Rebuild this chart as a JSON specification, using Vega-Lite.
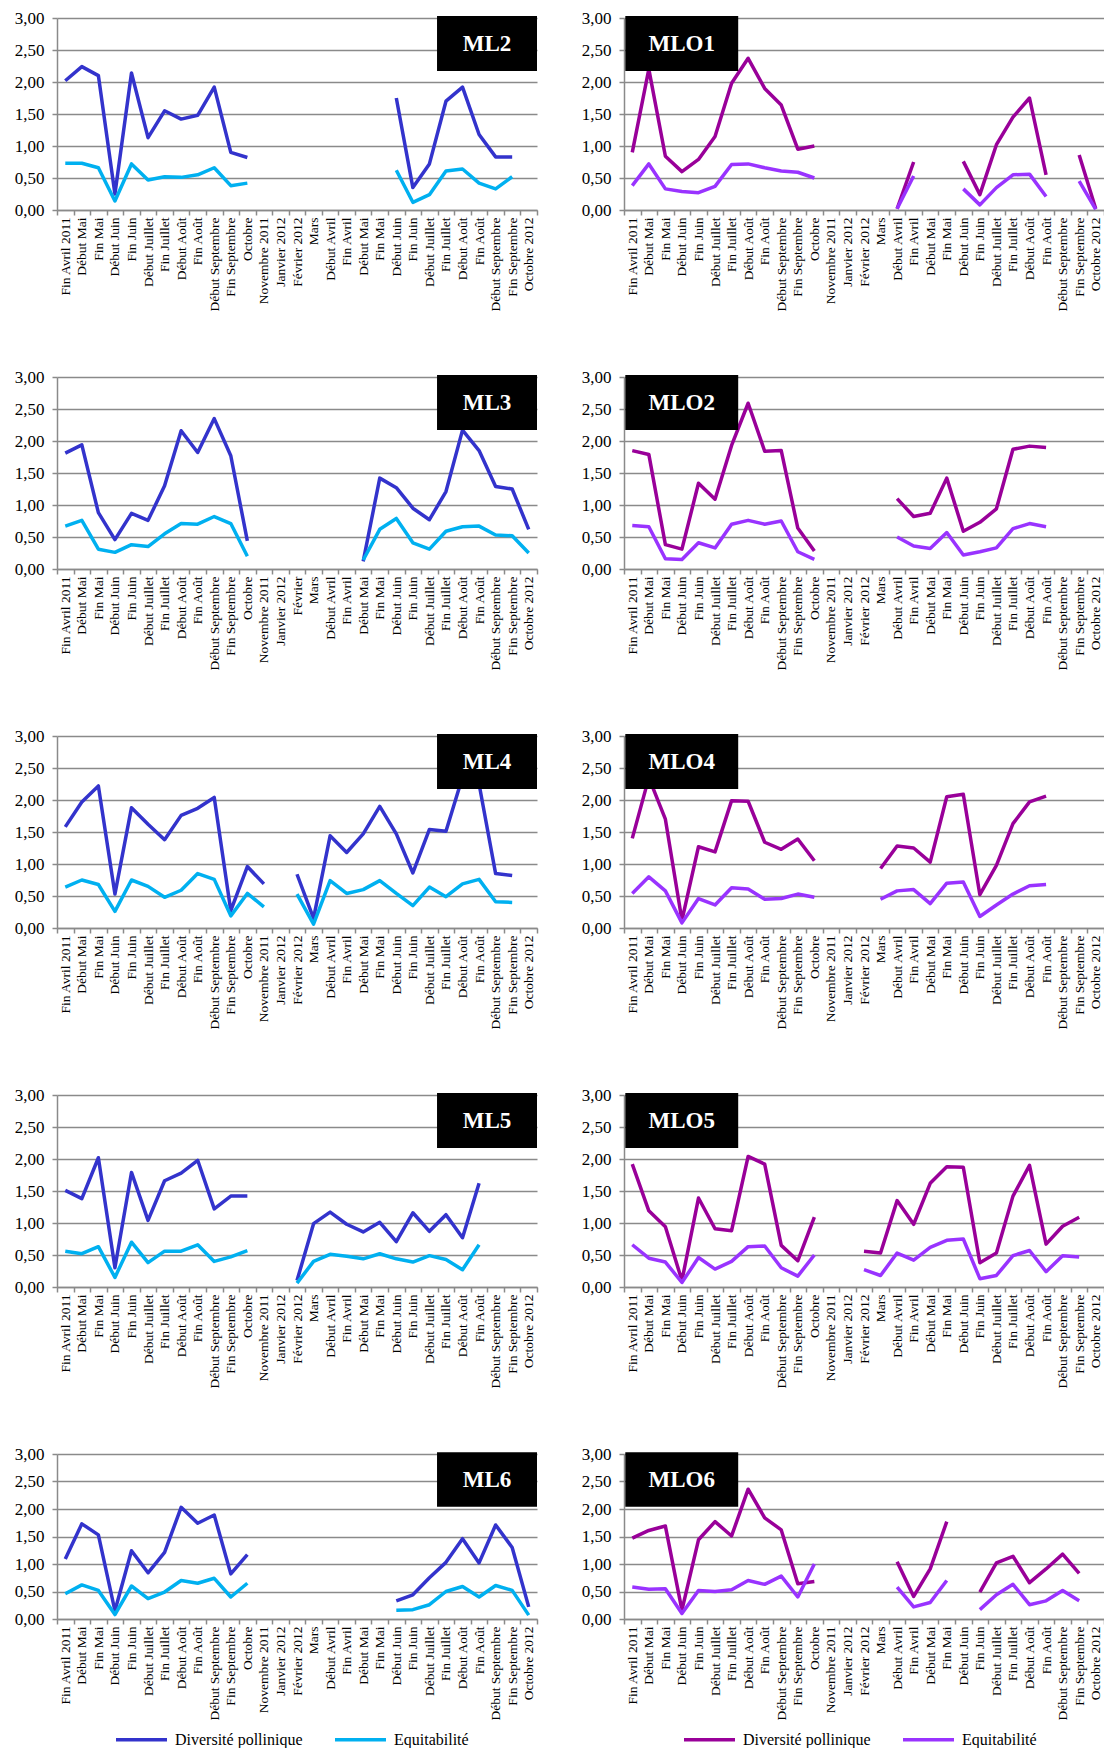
{
"$schema": "https://vega.github.io/schema/vega-lite/v6.json",
"padding": {"left": 14, "top": 9, "right": 0, "bottom": 0},
"background": "white",
"datasets": {"t": [
{"p":"ML2","i":0,"d":2.02,"e":0.73},{"p":"ML2","i":1,"d":2.24,"e":0.73},{"p":"ML2","i":2,"d":2.10,"e":0.66},{"p":"ML2","i":3,"d":0.25,"e":0.14},{"p":"ML2","i":4,"d":2.14,"e":0.72},{"p":"ML2","i":5,"d":1.13,"e":0.47},{"p":"ML2","i":6,"d":1.55,"e":0.52},{"p":"ML2","i":7,"d":1.42,"e":0.51},{"p":"ML2","i":8,"d":1.48,"e":0.55},{"p":"ML2","i":9,"d":1.92,"e":0.66},{"p":"ML2","i":10,"d":0.90,"e":0.38},{"p":"ML2","i":11,"d":0.82,"e":0.42},{"p":"ML2","i":12,"d":null,"e":null},
{"p":"ML2","i":20,"d":1.75,"e":0.62},{"p":"ML2","i":21,"d":0.35,"e":0.12},{"p":"ML2","i":22,"d":0.72,"e":0.24},{"p":"ML2","i":23,"d":1.70,"e":0.61},{"p":"ML2","i":24,"d":1.92,"e":0.64},{"p":"ML2","i":25,"d":1.18,"e":0.42},{"p":"ML2","i":26,"d":0.83,"e":0.33},{"p":"ML2","i":27,"d":0.83,"e":0.52},
{"p":"MLO1","i":0,"d":0.90,"e":0.38},{"p":"MLO1","i":1,"d":2.2,"e":0.72},{"p":"MLO1","i":2,"d":0.84,"e":0.33},{"p":"MLO1","i":3,"d":0.60,"e":0.29},{"p":"MLO1","i":4,"d":0.79,"e":0.27},{"p":"MLO1","i":5,"d":1.15,"e":0.37},{"p":"MLO1","i":6,"d":1.98,"e":0.71},{"p":"MLO1","i":7,"d":2.37,"e":0.72},{"p":"MLO1","i":8,"d":1.90,"e":0.66},{"p":"MLO1","i":9,"d":1.64,"e":0.61},{"p":"MLO1","i":10,"d":0.95,"e":0.59},{"p":"MLO1","i":11,"d":1.00,"e":0.50},{"p":"MLO1","i":12,"d":null,"e":null},
{"p":"MLO1","i":16,"d":0.02,"e":0.02},{"p":"MLO1","i":17,"d":0.75,"e":0.53},{"p":"MLO1","i":18,"d":null,"e":null},
{"p":"MLO1","i":20,"d":0.76,"e":0.33},{"p":"MLO1","i":21,"d":0.24,"e":0.08},{"p":"MLO1","i":22,"d":1.02,"e":0.35},{"p":"MLO1","i":23,"d":1.45,"e":0.55},{"p":"MLO1","i":24,"d":1.75,"e":0.56},{"p":"MLO1","i":25,"d":0.55,"e":0.21},{"p":"MLO1","i":26,"d":null,"e":null},
{"p":"MLO1","i":27,"d":0.86,"e":0.45},{"p":"MLO1","i":28,"d":0.02,"e":0.01},
{"p":"ML3","i":0,"d":1.81,"e":0.67},{"p":"ML3","i":1,"d":1.94,"e":0.76},{"p":"ML3","i":2,"d":0.88,"e":0.31},{"p":"ML3","i":3,"d":0.46,"e":0.26},{"p":"ML3","i":4,"d":0.87,"e":0.38},{"p":"ML3","i":5,"d":0.76,"e":0.35},{"p":"ML3","i":6,"d":1.30,"e":0.55},{"p":"ML3","i":7,"d":2.16,"e":0.71},{"p":"ML3","i":8,"d":1.82,"e":0.70},{"p":"ML3","i":9,"d":2.35,"e":0.82},{"p":"ML3","i":10,"d":1.77,"e":0.71},{"p":"ML3","i":11,"d":0.44,"e":0.20},{"p":"ML3","i":12,"d":null,"e":null},
{"p":"ML3","i":18,"d":0.12,"e":0.14},{"p":"ML3","i":19,"d":1.42,"e":0.62},{"p":"ML3","i":20,"d":1.27,"e":0.79},{"p":"ML3","i":21,"d":0.95,"e":0.41},{"p":"ML3","i":22,"d":0.77,"e":0.31},{"p":"ML3","i":23,"d":1.21,"e":0.59},{"p":"ML3","i":24,"d":2.17,"e":0.66},{"p":"ML3","i":25,"d":1.85,"e":0.67},{"p":"ML3","i":26,"d":1.29,"e":0.53},{"p":"ML3","i":27,"d":1.25,"e":0.52},{"p":"ML3","i":28,"d":0.62,"e":0.25},
{"p":"MLO2","i":0,"d":1.85,"e":0.68},{"p":"MLO2","i":1,"d":1.79,"e":0.66},{"p":"MLO2","i":2,"d":0.38,"e":0.16},{"p":"MLO2","i":3,"d":0.31,"e":0.15},{"p":"MLO2","i":4,"d":1.34,"e":0.41},{"p":"MLO2","i":5,"d":1.09,"e":0.33},{"p":"MLO2","i":6,"d":1.93,"e":0.70},{"p":"MLO2","i":7,"d":2.59,"e":0.76},{"p":"MLO2","i":8,"d":1.84,"e":0.70},{"p":"MLO2","i":9,"d":1.85,"e":0.75},{"p":"MLO2","i":10,"d":0.64,"e":0.27},{"p":"MLO2","i":11,"d":0.28,"e":0.15},{"p":"MLO2","i":12,"d":null,"e":null},
{"p":"MLO2","i":16,"d":1.10,"e":0.50},{"p":"MLO2","i":17,"d":0.82,"e":0.36},{"p":"MLO2","i":18,"d":0.87,"e":0.32},{"p":"MLO2","i":19,"d":1.42,"e":0.57},{"p":"MLO2","i":20,"d":0.59,"e":0.22},{"p":"MLO2","i":21,"d":0.73,"e":0.27},{"p":"MLO2","i":22,"d":0.94,"e":0.33},{"p":"MLO2","i":23,"d":1.87,"e":0.63},{"p":"MLO2","i":24,"d":1.92,"e":0.71},{"p":"MLO2","i":25,"d":1.90,"e":0.66},
{"p":"ML4","i":0,"d":1.58,"e":0.64},{"p":"ML4","i":1,"d":1.97,"e":0.75},{"p":"ML4","i":2,"d":2.22,"e":0.68},{"p":"ML4","i":3,"d":0.53,"e":0.26},{"p":"ML4","i":4,"d":1.88,"e":0.75},{"p":"ML4","i":5,"d":1.62,"e":0.65},{"p":"ML4","i":6,"d":1.38,"e":0.48},{"p":"ML4","i":7,"d":1.76,"e":0.59},{"p":"ML4","i":8,"d":1.87,"e":0.85},{"p":"ML4","i":9,"d":2.04,"e":0.76},{"p":"ML4","i":10,"d":0.27,"e":0.19},{"p":"ML4","i":11,"d":0.96,"e":0.54},{"p":"ML4","i":12,"d":0.69,"e":0.33},{"p":"ML4","i":13,"d":null,"e":null},
{"p":"ML4","i":14,"d":0.84,"e":0.53},{"p":"ML4","i":15,"d":0.15,"e":0.06},{"p":"ML4","i":16,"d":1.44,"e":0.74},{"p":"ML4","i":17,"d":1.18,"e":0.54},{"p":"ML4","i":18,"d":1.47,"e":0.60},{"p":"ML4","i":19,"d":1.90,"e":0.74},{"p":"ML4","i":20,"d":1.47,"e":0.54},{"p":"ML4","i":21,"d":0.86,"e":0.35},{"p":"ML4","i":22,"d":1.54,"e":0.64},{"p":"ML4","i":23,"d":1.51,"e":0.49},{"p":"ML4","i":24,"d":2.36,"e":0.69},{"p":"ML4","i":25,"d":2.25,"e":0.76},{"p":"ML4","i":26,"d":0.85,"e":0.41},{"p":"ML4","i":27,"d":0.82,"e":0.40},
{"p":"MLO4","i":0,"d":1.40,"e":0.54},{"p":"MLO4","i":1,"d":2.35,"e":0.80},{"p":"MLO4","i":2,"d":1.70,"e":0.58},{"p":"MLO4","i":3,"d":0.12,"e":0.08},{"p":"MLO4","i":4,"d":1.27,"e":0.46},{"p":"MLO4","i":5,"d":1.19,"e":0.36},{"p":"MLO4","i":6,"d":1.99,"e":0.63},{"p":"MLO4","i":7,"d":1.98,"e":0.61},{"p":"MLO4","i":8,"d":1.34,"e":0.45},{"p":"MLO4","i":9,"d":1.23,"e":0.46},{"p":"MLO4","i":10,"d":1.39,"e":0.53},{"p":"MLO4","i":11,"d":1.05,"e":0.48},{"p":"MLO4","i":12,"d":null,"e":null},
{"p":"MLO4","i":15,"d":0.93,"e":0.45},{"p":"MLO4","i":16,"d":1.28,"e":0.58},{"p":"MLO4","i":17,"d":1.25,"e":0.60},{"p":"MLO4","i":18,"d":1.03,"e":0.38},{"p":"MLO4","i":19,"d":2.05,"e":0.70},{"p":"MLO4","i":20,"d":2.09,"e":0.72},{"p":"MLO4","i":21,"d":0.52,"e":0.18},{"p":"MLO4","i":22,"d":0.98,"e":0.36},{"p":"MLO4","i":23,"d":1.63,"e":0.53},{"p":"MLO4","i":24,"d":1.97,"e":0.66},{"p":"MLO4","i":25,"d":2.06,"e":0.68},
{"p":"ML5","i":0,"d":1.51,"e":0.56},{"p":"ML5","i":1,"d":1.38,"e":0.52},{"p":"ML5","i":2,"d":2.02,"e":0.63},{"p":"ML5","i":3,"d":0.30,"e":0.15},{"p":"ML5","i":4,"d":1.79,"e":0.70},{"p":"ML5","i":5,"d":1.04,"e":0.38},{"p":"ML5","i":6,"d":1.66,"e":0.56},{"p":"ML5","i":7,"d":1.78,"e":0.56},{"p":"ML5","i":8,"d":1.98,"e":0.66},{"p":"ML5","i":9,"d":1.22,"e":0.40},{"p":"ML5","i":10,"d":1.42,"e":0.47},{"p":"ML5","i":11,"d":1.42,"e":0.57},{"p":"ML5","i":12,"d":null,"e":null},
{"p":"ML5","i":14,"d":0.10,"e":0.06},{"p":"ML5","i":15,"d":0.99,"e":0.40},{"p":"ML5","i":16,"d":1.17,"e":0.51},{"p":"ML5","i":17,"d":0.98,"e":0.48},{"p":"ML5","i":18,"d":0.86,"e":0.44},{"p":"ML5","i":19,"d":1.01,"e":0.52},{"p":"ML5","i":20,"d":0.71,"e":0.44},{"p":"ML5","i":21,"d":1.16,"e":0.39},{"p":"ML5","i":22,"d":0.87,"e":0.49},{"p":"ML5","i":23,"d":1.13,"e":0.43},{"p":"ML5","i":24,"d":0.77,"e":0.27},{"p":"ML5","i":25,"d":1.62,"e":0.66},
{"p":"MLO5","i":0,"d":1.92,"e":0.66},{"p":"MLO5","i":1,"d":1.19,"e":0.45},{"p":"MLO5","i":2,"d":0.94,"e":0.39},{"p":"MLO5","i":3,"d":0.10,"e":0.07},{"p":"MLO5","i":4,"d":1.39,"e":0.46},{"p":"MLO5","i":5,"d":0.91,"e":0.28},{"p":"MLO5","i":6,"d":0.88,"e":0.40},{"p":"MLO5","i":7,"d":2.04,"e":0.63},{"p":"MLO5","i":8,"d":1.92,"e":0.64},{"p":"MLO5","i":9,"d":0.65,"e":0.30},{"p":"MLO5","i":10,"d":0.41,"e":0.17},{"p":"MLO5","i":11,"d":1.09,"e":0.50},{"p":"MLO5","i":12,"d":null,"e":null},
{"p":"MLO5","i":14,"d":0.56,"e":0.27},{"p":"MLO5","i":15,"d":0.53,"e":0.18},{"p":"MLO5","i":16,"d":1.35,"e":0.53},{"p":"MLO5","i":17,"d":0.98,"e":0.42},{"p":"MLO5","i":18,"d":1.62,"e":0.62},{"p":"MLO5","i":19,"d":1.88,"e":0.73},{"p":"MLO5","i":20,"d":1.87,"e":0.75},{"p":"MLO5","i":21,"d":0.38,"e":0.13},{"p":"MLO5","i":22,"d":0.53,"e":0.18},{"p":"MLO5","i":23,"d":1.42,"e":0.49},{"p":"MLO5","i":24,"d":1.90,"e":0.57},{"p":"MLO5","i":25,"d":0.67,"e":0.24},{"p":"MLO5","i":26,"d":0.95,"e":0.49},{"p":"MLO5","i":27,"d":1.09,"e":0.47},
{"p":"ML6","i":0,"d":1.09,"e":0.46},{"p":"ML6","i":1,"d":1.73,"e":0.62},{"p":"ML6","i":2,"d":1.53,"e":0.52},{"p":"ML6","i":3,"d":0.15,"e":0.08},{"p":"ML6","i":4,"d":1.24,"e":0.60},{"p":"ML6","i":5,"d":0.84,"e":0.37},{"p":"ML6","i":6,"d":1.21,"e":0.49},{"p":"ML6","i":7,"d":2.03,"e":0.70},{"p":"ML6","i":8,"d":1.74,"e":0.65},{"p":"ML6","i":9,"d":1.89,"e":0.74},{"p":"ML6","i":10,"d":0.82,"e":0.40},{"p":"ML6","i":11,"d":1.17,"e":0.65},{"p":"ML6","i":12,"d":null,"e":null},
{"p":"ML6","i":20,"d":0.33,"e":0.16},{"p":"ML6","i":21,"d":0.44,"e":0.17},{"p":"ML6","i":22,"d":0.75,"e":0.26},{"p":"ML6","i":23,"d":1.03,"e":0.50},{"p":"ML6","i":24,"d":1.46,"e":0.59},{"p":"ML6","i":25,"d":1.02,"e":0.40},{"p":"ML6","i":26,"d":1.71,"e":0.61},{"p":"ML6","i":27,"d":1.30,"e":0.52},{"p":"ML6","i":28,"d":0.22,"e":0.07},
{"p":"MLO6","i":0,"d":1.47,"e":0.58},{"p":"MLO6","i":1,"d":1.61,"e":0.54},{"p":"MLO6","i":2,"d":1.69,"e":0.55},{"p":"MLO6","i":3,"d":0.16,"e":0.10},{"p":"MLO6","i":4,"d":1.44,"e":0.52},{"p":"MLO6","i":5,"d":1.77,"e":0.50},{"p":"MLO6","i":6,"d":1.51,"e":0.53},{"p":"MLO6","i":7,"d":2.36,"e":0.70},{"p":"MLO6","i":8,"d":1.84,"e":0.63},{"p":"MLO6","i":9,"d":1.62,"e":0.78},{"p":"MLO6","i":10,"d":0.64,"e":0.40},{"p":"MLO6","i":11,"d":0.68,"e":1.00},{"p":"MLO6","i":12,"d":null,"e":null},
{"p":"MLO6","i":16,"d":1.04,"e":0.58},{"p":"MLO6","i":17,"d":0.41,"e":0.22},{"p":"MLO6","i":18,"d":0.91,"e":0.30},{"p":"MLO6","i":19,"d":1.77,"e":0.70},{"p":"MLO6","i":20,"d":null,"e":null},
{"p":"MLO6","i":21,"d":0.49,"e":0.17},{"p":"MLO6","i":22,"d":1.02,"e":0.44},{"p":"MLO6","i":23,"d":1.14,"e":0.63},{"p":"MLO6","i":24,"d":0.66,"e":0.26},{"p":"MLO6","i":25,"d":0.91,"e":0.33},{"p":"MLO6","i":26,"d":1.18,"e":0.52},{"p":"MLO6","i":27,"d":0.83,"e":0.33}
]},
"data": {"name": "t"},
"config": {
  "view": {"stroke": null},
  "axis": {"domainColor": "#8a8a8a", "domainWidth": 1.5, "tickColor": "#8a8a8a", "tickWidth": 1.5, "tickSize": 5, "gridColor": "#8a8a8a", "gridWidth": 1.5, "labelFont": "Liberation Serif", "labelColor": "#000000"},
  "line": {"strokeWidth": 3.5, "strokeJoin": "round", "invalid": "break-paths-show-domains"}
},
"resolve": {"scale": {"color": "independent"}},
"spacing": 56,
"vconcat": [
{"hconcat": [
 {"width": 480, "height": 192, "layer": [
  {"transform": [{"filter": "datum.p == 'ML2'"}, {"fold": ["d", "e"], "as": ["s", "v"]}], "mark": {"type": "line"}, "encoding": {
   "x": {"field": "i", "type": "quantitative", "scale": {"domain": [-0.5, 28.5], "nice": false, "zero": false}, "axis": {"title": null, "grid": false, "values": [-0.5,0.5,1.5,2.5,3.5,4.5,5.5,6.5,7.5,8.5,9.5,10.5,11.5,12.5,13.5,14.5,15.5,16.5,17.5,18.5,19.5,20.5,21.5,22.5,23.5,24.5,25.5,26.5,27.5,28.5], "labelExpr": "['Fin Avril 2011','Début Mai','Fin Mai','Début Juin','Fin Juin','Début Juillet','Fin Juillet','Début Août','Fin Août','Début Septembre','Fin Septembre','Octobre','Novembre 2011','Janvier 2012','Février 2012','Mars','Début Avril','Fin Avril','Début Mai','Fin Mai','Début Juin','Fin Juin','Début Juillet','Fin Juillet','Début Août','Fin Août','Début Septembre','Fin Septembre','Octobre 2012',''][datum.value + 0.5]", "labelAngle": 270, "labelFont": "Liberation Serif", "labelFontSize": 13.5, "labelOverlap": false, "labelFlush": false, "labelBound": false, "labelPadding": 2, "labelOffset": 8.3}},
   "y": {"field": "v", "type": "quantitative", "scale": {"domain": [0, 3], "nice": false}, "axis": {"title": null, "values": [0,0.5,1,1.5,2,2.5,3], "labelExpr": "replace(format(datum.value, '.2f'), '.', ',')", "labelFont": "Liberation Serif", "labelFontSize": 17, "labelPadding": 8, "labelOverlap": false}},
   "color": {"field": "s", "type": "nominal", "scale": {"domain": ["d", "e"], "range": ["#3333CC", "#00B0F0"]}, "legend": null}}},
  {"data": {"values": [{}]}, "mark": {"type": "rect", "color": "#000000"}, "encoding": {
   "x": {"datum": 22.46, "scale": {"domain": [-0.5, 28.5], "nice": false, "zero": false}, "axis": {"title": null, "grid": false, "values": [-0.5,0.5,1.5,2.5,3.5,4.5,5.5,6.5,7.5,8.5,9.5,10.5,11.5,12.5,13.5,14.5,15.5,16.5,17.5,18.5,19.5,20.5,21.5,22.5,23.5,24.5,25.5,26.5,27.5,28.5], "labelExpr": "['Fin Avril 2011','Début Mai','Fin Mai','Début Juin','Fin Juin','Début Juillet','Fin Juillet','Début Août','Fin Août','Début Septembre','Fin Septembre','Octobre','Novembre 2011','Janvier 2012','Février 2012','Mars','Début Avril','Fin Avril','Début Mai','Fin Mai','Début Juin','Fin Juin','Début Juillet','Fin Juillet','Début Août','Fin Août','Début Septembre','Fin Septembre','Octobre 2012',''][datum.value + 0.5]", "labelAngle": 270, "labelFont": "Liberation Serif", "labelFontSize": 13.5, "labelOverlap": false, "labelFlush": false, "labelBound": false, "labelPadding": 2, "labelOffset": 8.3}},
   "x2": {"datum": 28.5},
   "y": {"datum": 2.17, "scale": {"domain": [0, 3], "nice": false}, "axis": {"title": null, "values": [0,0.5,1,1.5,2,2.5,3], "labelExpr": "replace(format(datum.value, '.2f'), '.', ',')", "labelFont": "Liberation Serif", "labelFontSize": 17, "labelPadding": 8, "labelOverlap": false}},
   "y2": {"datum": 3.03}}},
  {"data": {"values": [{}]}, "mark": {"type": "text", "color": "#ffffff", "font": "Liberation Serif", "fontWeight": "bold", "fontSize": 23}, "encoding": {
   "x": {"datum": 25.48, "scale": {"domain": [-0.5, 28.5], "nice": false, "zero": false}, "axis": {"title": null, "grid": false, "values": [-0.5,0.5,1.5,2.5,3.5,4.5,5.5,6.5,7.5,8.5,9.5,10.5,11.5,12.5,13.5,14.5,15.5,16.5,17.5,18.5,19.5,20.5,21.5,22.5,23.5,24.5,25.5,26.5,27.5,28.5], "labelExpr": "['Fin Avril 2011','Début Mai','Fin Mai','Début Juin','Fin Juin','Début Juillet','Fin Juillet','Début Août','Fin Août','Début Septembre','Fin Septembre','Octobre','Novembre 2011','Janvier 2012','Février 2012','Mars','Début Avril','Fin Avril','Début Mai','Fin Mai','Début Juin','Fin Juin','Début Juillet','Fin Juillet','Début Août','Fin Août','Début Septembre','Fin Septembre','Octobre 2012',''][datum.value + 0.5]", "labelAngle": 270, "labelFont": "Liberation Serif", "labelFontSize": 13.5, "labelOverlap": false, "labelFlush": false, "labelBound": false, "labelPadding": 2, "labelOffset": 8.3}},
   "y": {"datum": 2.6, "scale": {"domain": [0, 3], "nice": false}, "axis": {"title": null, "values": [0,0.5,1,1.5,2,2.5,3], "labelExpr": "replace(format(datum.value, '.2f'), '.', ',')", "labelFont": "Liberation Serif", "labelFontSize": 17, "labelPadding": 8, "labelOverlap": false}},
   "text": {"value": "ML2"}}}
 ]},
 {"width": 480, "height": 192, "layer": [
  {"transform": [{"filter": "datum.p == 'MLO1'"}, {"fold": ["d", "e"], "as": ["s", "v"]}], "mark": {"type": "line"}, "encoding": {
   "x": {"field": "i", "type": "quantitative", "scale": {"domain": [-0.5, 28.5], "nice": false, "zero": false}, "axis": {"title": null, "grid": false, "values": [-0.5,0.5,1.5,2.5,3.5,4.5,5.5,6.5,7.5,8.5,9.5,10.5,11.5,12.5,13.5,14.5,15.5,16.5,17.5,18.5,19.5,20.5,21.5,22.5,23.5,24.5,25.5,26.5,27.5,28.5], "labelExpr": "['Fin Avril 2011','Début Mai','Fin Mai','Début Juin','Fin Juin','Début Juillet','Fin Juillet','Début Août','Fin Août','Début Septembre','Fin Septembre','Octobre','Novembre 2011','Janvier 2012','Février 2012','Mars','Début Avril','Fin Avril','Début Mai','Fin Mai','Début Juin','Fin Juin','Début Juillet','Fin Juillet','Début Août','Fin Août','Début Septembre','Fin Septembre','Octobre 2012',''][datum.value + 0.5]", "labelAngle": 270, "labelFont": "Liberation Serif", "labelFontSize": 13.5, "labelOverlap": false, "labelFlush": false, "labelBound": false, "labelPadding": 2, "labelOffset": 8.3}},
   "y": {"field": "v", "type": "quantitative", "scale": {"domain": [0, 3], "nice": false}, "axis": {"title": null, "values": [0,0.5,1,1.5,2,2.5,3], "labelExpr": "replace(format(datum.value, '.2f'), '.', ',')", "labelFont": "Liberation Serif", "labelFontSize": 17, "labelPadding": 8, "labelOverlap": false}},
   "color": {"field": "s", "type": "nominal", "scale": {"domain": ["d", "e"], "range": ["#990099", "#9933FF"]}, "legend": null}}},
  {"data": {"values": [{}]}, "mark": {"type": "rect", "color": "#000000"}, "encoding": {
   "x": {"datum": -0.42, "scale": {"domain": [-0.5, 28.5], "nice": false, "zero": false}, "axis": {"title": null, "grid": false, "values": [-0.5,0.5,1.5,2.5,3.5,4.5,5.5,6.5,7.5,8.5,9.5,10.5,11.5,12.5,13.5,14.5,15.5,16.5,17.5,18.5,19.5,20.5,21.5,22.5,23.5,24.5,25.5,26.5,27.5,28.5], "labelExpr": "['Fin Avril 2011','Début Mai','Fin Mai','Début Juin','Fin Juin','Début Juillet','Fin Juillet','Début Août','Fin Août','Début Septembre','Fin Septembre','Octobre','Novembre 2011','Janvier 2012','Février 2012','Mars','Début Avril','Fin Avril','Début Mai','Fin Mai','Début Juin','Fin Juin','Début Juillet','Fin Juillet','Début Août','Fin Août','Début Septembre','Fin Septembre','Octobre 2012',''][datum.value + 0.5]", "labelAngle": 270, "labelFont": "Liberation Serif", "labelFontSize": 13.5, "labelOverlap": false, "labelFlush": false, "labelBound": false, "labelPadding": 2, "labelOffset": 8.3}},
   "x2": {"datum": 6.4},
   "y": {"datum": 2.17, "scale": {"domain": [0, 3], "nice": false}, "axis": {"title": null, "values": [0,0.5,1,1.5,2,2.5,3], "labelExpr": "replace(format(datum.value, '.2f'), '.', ',')", "labelFont": "Liberation Serif", "labelFontSize": 17, "labelPadding": 8, "labelOverlap": false}},
   "y2": {"datum": 3.03}}},
  {"data": {"values": [{}]}, "mark": {"type": "text", "color": "#ffffff", "font": "Liberation Serif", "fontWeight": "bold", "fontSize": 23}, "encoding": {
   "x": {"datum": 2.99, "scale": {"domain": [-0.5, 28.5], "nice": false, "zero": false}, "axis": {"title": null, "grid": false, "values": [-0.5,0.5,1.5,2.5,3.5,4.5,5.5,6.5,7.5,8.5,9.5,10.5,11.5,12.5,13.5,14.5,15.5,16.5,17.5,18.5,19.5,20.5,21.5,22.5,23.5,24.5,25.5,26.5,27.5,28.5], "labelExpr": "['Fin Avril 2011','Début Mai','Fin Mai','Début Juin','Fin Juin','Début Juillet','Fin Juillet','Début Août','Fin Août','Début Septembre','Fin Septembre','Octobre','Novembre 2011','Janvier 2012','Février 2012','Mars','Début Avril','Fin Avril','Début Mai','Fin Mai','Début Juin','Fin Juin','Début Juillet','Fin Juillet','Début Août','Fin Août','Début Septembre','Fin Septembre','Octobre 2012',''][datum.value + 0.5]", "labelAngle": 270, "labelFont": "Liberation Serif", "labelFontSize": 13.5, "labelOverlap": false, "labelFlush": false, "labelBound": false, "labelPadding": 2, "labelOffset": 8.3}},
   "y": {"datum": 2.6, "scale": {"domain": [0, 3], "nice": false}, "axis": {"title": null, "values": [0,0.5,1,1.5,2,2.5,3], "labelExpr": "replace(format(datum.value, '.2f'), '.', ',')", "labelFont": "Liberation Serif", "labelFontSize": 17, "labelPadding": 8, "labelOverlap": false}},
   "text": {"value": "MLO1"}}}
 ]}
], "spacing": 29, "resolve": {"scale": {"color": "independent"}}},
{"hconcat": [
 {"width": 480, "height": 192, "layer": [
  {"transform": [{"filter": "datum.p == 'ML3'"}, {"fold": ["d", "e"], "as": ["s", "v"]}], "mark": {"type": "line"}, "encoding": {
   "x": {"field": "i", "type": "quantitative", "scale": {"domain": [-0.5, 28.5], "nice": false, "zero": false}, "axis": {"title": null, "grid": false, "values": [-0.5,0.5,1.5,2.5,3.5,4.5,5.5,6.5,7.5,8.5,9.5,10.5,11.5,12.5,13.5,14.5,15.5,16.5,17.5,18.5,19.5,20.5,21.5,22.5,23.5,24.5,25.5,26.5,27.5,28.5], "labelExpr": "['Fin Avril 2011','Début Mai','Fin Mai','Début Juin','Fin Juin','Début Juillet','Fin Juillet','Début Août','Fin Août','Début Septembre','Fin Septembre','Octobre','Novembre 2011','Janvier 2012','Février','Mars','Début Avril','Fin Avril','Début Mai','Fin Mai','Début Juin','Fin Juin','Début Juillet','Fin Juillet','Début Août','Fin Août','Début Septembre','Fin Septembre','Octobre 2012',''][datum.value + 0.5]", "labelAngle": 270, "labelFont": "Liberation Serif", "labelFontSize": 13.5, "labelOverlap": false, "labelFlush": false, "labelBound": false, "labelPadding": 2, "labelOffset": 8.3}},
   "y": {"field": "v", "type": "quantitative", "scale": {"domain": [0, 3], "nice": false}, "axis": {"title": null, "values": [0,0.5,1,1.5,2,2.5,3], "labelExpr": "replace(format(datum.value, '.2f'), '.', ',')", "labelFont": "Liberation Serif", "labelFontSize": 17, "labelPadding": 8, "labelOverlap": false}},
   "color": {"field": "s", "type": "nominal", "scale": {"domain": ["d", "e"], "range": ["#3333CC", "#00B0F0"]}, "legend": null}}},
  {"data": {"values": [{}]}, "mark": {"type": "rect", "color": "#000000"}, "encoding": {
   "x": {"datum": 22.46, "scale": {"domain": [-0.5, 28.5], "nice": false, "zero": false}, "axis": {"title": null, "grid": false, "values": [-0.5,0.5,1.5,2.5,3.5,4.5,5.5,6.5,7.5,8.5,9.5,10.5,11.5,12.5,13.5,14.5,15.5,16.5,17.5,18.5,19.5,20.5,21.5,22.5,23.5,24.5,25.5,26.5,27.5,28.5], "labelExpr": "['Fin Avril 2011','Début Mai','Fin Mai','Début Juin','Fin Juin','Début Juillet','Fin Juillet','Début Août','Fin Août','Début Septembre','Fin Septembre','Octobre','Novembre 2011','Janvier 2012','Février','Mars','Début Avril','Fin Avril','Début Mai','Fin Mai','Début Juin','Fin Juin','Début Juillet','Fin Juillet','Début Août','Fin Août','Début Septembre','Fin Septembre','Octobre 2012',''][datum.value + 0.5]", "labelAngle": 270, "labelFont": "Liberation Serif", "labelFontSize": 13.5, "labelOverlap": false, "labelFlush": false, "labelBound": false, "labelPadding": 2, "labelOffset": 8.3}},
   "x2": {"datum": 28.5},
   "y": {"datum": 2.17, "scale": {"domain": [0, 3], "nice": false}, "axis": {"title": null, "values": [0,0.5,1,1.5,2,2.5,3], "labelExpr": "replace(format(datum.value, '.2f'), '.', ',')", "labelFont": "Liberation Serif", "labelFontSize": 17, "labelPadding": 8, "labelOverlap": false}},
   "y2": {"datum": 3.03}}},
  {"data": {"values": [{}]}, "mark": {"type": "text", "color": "#ffffff", "font": "Liberation Serif", "fontWeight": "bold", "fontSize": 23}, "encoding": {
   "x": {"datum": 25.48, "scale": {"domain": [-0.5, 28.5], "nice": false, "zero": false}, "axis": {"title": null, "grid": false, "values": [-0.5,0.5,1.5,2.5,3.5,4.5,5.5,6.5,7.5,8.5,9.5,10.5,11.5,12.5,13.5,14.5,15.5,16.5,17.5,18.5,19.5,20.5,21.5,22.5,23.5,24.5,25.5,26.5,27.5,28.5], "labelExpr": "['Fin Avril 2011','Début Mai','Fin Mai','Début Juin','Fin Juin','Début Juillet','Fin Juillet','Début Août','Fin Août','Début Septembre','Fin Septembre','Octobre','Novembre 2011','Janvier 2012','Février','Mars','Début Avril','Fin Avril','Début Mai','Fin Mai','Début Juin','Fin Juin','Début Juillet','Fin Juillet','Début Août','Fin Août','Début Septembre','Fin Septembre','Octobre 2012',''][datum.value + 0.5]", "labelAngle": 270, "labelFont": "Liberation Serif", "labelFontSize": 13.5, "labelOverlap": false, "labelFlush": false, "labelBound": false, "labelPadding": 2, "labelOffset": 8.3}},
   "y": {"datum": 2.6, "scale": {"domain": [0, 3], "nice": false}, "axis": {"title": null, "values": [0,0.5,1,1.5,2,2.5,3], "labelExpr": "replace(format(datum.value, '.2f'), '.', ',')", "labelFont": "Liberation Serif", "labelFontSize": 17, "labelPadding": 8, "labelOverlap": false}},
   "text": {"value": "ML3"}}}
 ]},
 {"width": 480, "height": 192, "layer": [
  {"transform": [{"filter": "datum.p == 'MLO2'"}, {"fold": ["d", "e"], "as": ["s", "v"]}], "mark": {"type": "line"}, "encoding": {
   "x": {"field": "i", "type": "quantitative", "scale": {"domain": [-0.5, 28.5], "nice": false, "zero": false}, "axis": {"title": null, "grid": false, "values": [-0.5,0.5,1.5,2.5,3.5,4.5,5.5,6.5,7.5,8.5,9.5,10.5,11.5,12.5,13.5,14.5,15.5,16.5,17.5,18.5,19.5,20.5,21.5,22.5,23.5,24.5,25.5,26.5,27.5,28.5], "labelExpr": "['Fin Avril 2011','Début Mai','Fin Mai','Début Juin','Fin Juin','Début Juillet','Fin Juillet','Début Août','Fin Août','Début Septembre','Fin Septembre','Octobre','Novembre 2011','Janvier 2012','Février 2012','Mars','Début Avril','Fin Avril','Début Mai','Fin Mai','Début Juin','Fin Juin','Début Juillet','Fin Juillet','Début Août','Fin Août','Début Septembre','Fin Septembre','Octobre 2012',''][datum.value + 0.5]", "labelAngle": 270, "labelFont": "Liberation Serif", "labelFontSize": 13.5, "labelOverlap": false, "labelFlush": false, "labelBound": false, "labelPadding": 2, "labelOffset": 8.3}},
   "y": {"field": "v", "type": "quantitative", "scale": {"domain": [0, 3], "nice": false}, "axis": {"title": null, "values": [0,0.5,1,1.5,2,2.5,3], "labelExpr": "replace(format(datum.value, '.2f'), '.', ',')", "labelFont": "Liberation Serif", "labelFontSize": 17, "labelPadding": 8, "labelOverlap": false}},
   "color": {"field": "s", "type": "nominal", "scale": {"domain": ["d", "e"], "range": ["#990099", "#9933FF"]}, "legend": null}}},
  {"data": {"values": [{}]}, "mark": {"type": "rect", "color": "#000000"}, "encoding": {
   "x": {"datum": -0.42, "scale": {"domain": [-0.5, 28.5], "nice": false, "zero": false}, "axis": {"title": null, "grid": false, "values": [-0.5,0.5,1.5,2.5,3.5,4.5,5.5,6.5,7.5,8.5,9.5,10.5,11.5,12.5,13.5,14.5,15.5,16.5,17.5,18.5,19.5,20.5,21.5,22.5,23.5,24.5,25.5,26.5,27.5,28.5], "labelExpr": "['Fin Avril 2011','Début Mai','Fin Mai','Début Juin','Fin Juin','Début Juillet','Fin Juillet','Début Août','Fin Août','Début Septembre','Fin Septembre','Octobre','Novembre 2011','Janvier 2012','Février 2012','Mars','Début Avril','Fin Avril','Début Mai','Fin Mai','Début Juin','Fin Juin','Début Juillet','Fin Juillet','Début Août','Fin Août','Début Septembre','Fin Septembre','Octobre 2012',''][datum.value + 0.5]", "labelAngle": 270, "labelFont": "Liberation Serif", "labelFontSize": 13.5, "labelOverlap": false, "labelFlush": false, "labelBound": false, "labelPadding": 2, "labelOffset": 8.3}},
   "x2": {"datum": 6.4},
   "y": {"datum": 2.17, "scale": {"domain": [0, 3], "nice": false}, "axis": {"title": null, "values": [0,0.5,1,1.5,2,2.5,3], "labelExpr": "replace(format(datum.value, '.2f'), '.', ',')", "labelFont": "Liberation Serif", "labelFontSize": 17, "labelPadding": 8, "labelOverlap": false}},
   "y2": {"datum": 3.03}}},
  {"data": {"values": [{}]}, "mark": {"type": "text", "color": "#ffffff", "font": "Liberation Serif", "fontWeight": "bold", "fontSize": 23}, "encoding": {
   "x": {"datum": 2.99, "scale": {"domain": [-0.5, 28.5], "nice": false, "zero": false}, "axis": {"title": null, "grid": false, "values": [-0.5,0.5,1.5,2.5,3.5,4.5,5.5,6.5,7.5,8.5,9.5,10.5,11.5,12.5,13.5,14.5,15.5,16.5,17.5,18.5,19.5,20.5,21.5,22.5,23.5,24.5,25.5,26.5,27.5,28.5], "labelExpr": "['Fin Avril 2011','Début Mai','Fin Mai','Début Juin','Fin Juin','Début Juillet','Fin Juillet','Début Août','Fin Août','Début Septembre','Fin Septembre','Octobre','Novembre 2011','Janvier 2012','Février 2012','Mars','Début Avril','Fin Avril','Début Mai','Fin Mai','Début Juin','Fin Juin','Début Juillet','Fin Juillet','Début Août','Fin Août','Début Septembre','Fin Septembre','Octobre 2012',''][datum.value + 0.5]", "labelAngle": 270, "labelFont": "Liberation Serif", "labelFontSize": 13.5, "labelOverlap": false, "labelFlush": false, "labelBound": false, "labelPadding": 2, "labelOffset": 8.3}},
   "y": {"datum": 2.6, "scale": {"domain": [0, 3], "nice": false}, "axis": {"title": null, "values": [0,0.5,1,1.5,2,2.5,3], "labelExpr": "replace(format(datum.value, '.2f'), '.', ',')", "labelFont": "Liberation Serif", "labelFontSize": 17, "labelPadding": 8, "labelOverlap": false}},
   "text": {"value": "MLO2"}}}
 ]}
], "spacing": 29, "resolve": {"scale": {"color": "independent"}}},
{"hconcat": [
 {"width": 480, "height": 192, "layer": [
  {"transform": [{"filter": "datum.p == 'ML4'"}, {"fold": ["d", "e"], "as": ["s", "v"]}], "mark": {"type": "line"}, "encoding": {
   "x": {"field": "i", "type": "quantitative", "scale": {"domain": [-0.5, 28.5], "nice": false, "zero": false}, "axis": {"title": null, "grid": false, "values": [-0.5,0.5,1.5,2.5,3.5,4.5,5.5,6.5,7.5,8.5,9.5,10.5,11.5,12.5,13.5,14.5,15.5,16.5,17.5,18.5,19.5,20.5,21.5,22.5,23.5,24.5,25.5,26.5,27.5,28.5], "labelExpr": "['Fin Avril 2011','Début Mai','Fin Mai','Début Juin','Fin Juin','Début Juillet','Fin Juillet','Début Août','Fin Août','Début Septembre','Fin Septembre','Octobre','Novembre 2011','Janvier 2012','Février 2012','Mars','Début Avril','Fin Avril','Début Mai','Fin Mai','Début Juin','Fin Juin','Début Juillet','Fin Juillet','Début Août','Fin Août','Début Septembre','Fin Septembre','Octobre 2012',''][datum.value + 0.5]", "labelAngle": 270, "labelFont": "Liberation Serif", "labelFontSize": 13.5, "labelOverlap": false, "labelFlush": false, "labelBound": false, "labelPadding": 2, "labelOffset": 8.3}},
   "y": {"field": "v", "type": "quantitative", "scale": {"domain": [0, 3], "nice": false}, "axis": {"title": null, "values": [0,0.5,1,1.5,2,2.5,3], "labelExpr": "replace(format(datum.value, '.2f'), '.', ',')", "labelFont": "Liberation Serif", "labelFontSize": 17, "labelPadding": 8, "labelOverlap": false}},
   "color": {"field": "s", "type": "nominal", "scale": {"domain": ["d", "e"], "range": ["#3333CC", "#00B0F0"]}, "legend": null}}},
  {"data": {"values": [{}]}, "mark": {"type": "rect", "color": "#000000"}, "encoding": {
   "x": {"datum": 22.46, "scale": {"domain": [-0.5, 28.5], "nice": false, "zero": false}, "axis": {"title": null, "grid": false, "values": [-0.5,0.5,1.5,2.5,3.5,4.5,5.5,6.5,7.5,8.5,9.5,10.5,11.5,12.5,13.5,14.5,15.5,16.5,17.5,18.5,19.5,20.5,21.5,22.5,23.5,24.5,25.5,26.5,27.5,28.5], "labelExpr": "['Fin Avril 2011','Début Mai','Fin Mai','Début Juin','Fin Juin','Début Juillet','Fin Juillet','Début Août','Fin Août','Début Septembre','Fin Septembre','Octobre','Novembre 2011','Janvier 2012','Février 2012','Mars','Début Avril','Fin Avril','Début Mai','Fin Mai','Début Juin','Fin Juin','Début Juillet','Fin Juillet','Début Août','Fin Août','Début Septembre','Fin Septembre','Octobre 2012',''][datum.value + 0.5]", "labelAngle": 270, "labelFont": "Liberation Serif", "labelFontSize": 13.5, "labelOverlap": false, "labelFlush": false, "labelBound": false, "labelPadding": 2, "labelOffset": 8.3}},
   "x2": {"datum": 28.5},
   "y": {"datum": 2.17, "scale": {"domain": [0, 3], "nice": false}, "axis": {"title": null, "values": [0,0.5,1,1.5,2,2.5,3], "labelExpr": "replace(format(datum.value, '.2f'), '.', ',')", "labelFont": "Liberation Serif", "labelFontSize": 17, "labelPadding": 8, "labelOverlap": false}},
   "y2": {"datum": 3.03}}},
  {"data": {"values": [{}]}, "mark": {"type": "text", "color": "#ffffff", "font": "Liberation Serif", "fontWeight": "bold", "fontSize": 23}, "encoding": {
   "x": {"datum": 25.48, "scale": {"domain": [-0.5, 28.5], "nice": false, "zero": false}, "axis": {"title": null, "grid": false, "values": [-0.5,0.5,1.5,2.5,3.5,4.5,5.5,6.5,7.5,8.5,9.5,10.5,11.5,12.5,13.5,14.5,15.5,16.5,17.5,18.5,19.5,20.5,21.5,22.5,23.5,24.5,25.5,26.5,27.5,28.5], "labelExpr": "['Fin Avril 2011','Début Mai','Fin Mai','Début Juin','Fin Juin','Début Juillet','Fin Juillet','Début Août','Fin Août','Début Septembre','Fin Septembre','Octobre','Novembre 2011','Janvier 2012','Février 2012','Mars','Début Avril','Fin Avril','Début Mai','Fin Mai','Début Juin','Fin Juin','Début Juillet','Fin Juillet','Début Août','Fin Août','Début Septembre','Fin Septembre','Octobre 2012',''][datum.value + 0.5]", "labelAngle": 270, "labelFont": "Liberation Serif", "labelFontSize": 13.5, "labelOverlap": false, "labelFlush": false, "labelBound": false, "labelPadding": 2, "labelOffset": 8.3}},
   "y": {"datum": 2.6, "scale": {"domain": [0, 3], "nice": false}, "axis": {"title": null, "values": [0,0.5,1,1.5,2,2.5,3], "labelExpr": "replace(format(datum.value, '.2f'), '.', ',')", "labelFont": "Liberation Serif", "labelFontSize": 17, "labelPadding": 8, "labelOverlap": false}},
   "text": {"value": "ML4"}}}
 ]},
 {"width": 480, "height": 192, "layer": [
  {"transform": [{"filter": "datum.p == 'MLO4'"}, {"fold": ["d", "e"], "as": ["s", "v"]}], "mark": {"type": "line"}, "encoding": {
   "x": {"field": "i", "type": "quantitative", "scale": {"domain": [-0.5, 28.5], "nice": false, "zero": false}, "axis": {"title": null, "grid": false, "values": [-0.5,0.5,1.5,2.5,3.5,4.5,5.5,6.5,7.5,8.5,9.5,10.5,11.5,12.5,13.5,14.5,15.5,16.5,17.5,18.5,19.5,20.5,21.5,22.5,23.5,24.5,25.5,26.5,27.5,28.5], "labelExpr": "['Fin Avril 2011','Début Mai','Fin Mai','Début Juin','Fin Juin','Début Juillet','Fin Juillet','Début Août','Fin Août','Début Septembre','Fin Septembre','Octobre','Novembre 2011','Janvier 2012','Février 2012','Mars','Début Avril','Fin Avril','Début Mai','Fin Mai','Début Juin','Fin Juin','Début Juillet','Fin Juillet','Début Août','Fin Août','Début Septembre','Fin Septembre','Octobre 2012',''][datum.value + 0.5]", "labelAngle": 270, "labelFont": "Liberation Serif", "labelFontSize": 13.5, "labelOverlap": false, "labelFlush": false, "labelBound": false, "labelPadding": 2, "labelOffset": 8.3}},
   "y": {"field": "v", "type": "quantitative", "scale": {"domain": [0, 3], "nice": false}, "axis": {"title": null, "values": [0,0.5,1,1.5,2,2.5,3], "labelExpr": "replace(format(datum.value, '.2f'), '.', ',')", "labelFont": "Liberation Serif", "labelFontSize": 17, "labelPadding": 8, "labelOverlap": false}},
   "color": {"field": "s", "type": "nominal", "scale": {"domain": ["d", "e"], "range": ["#990099", "#9933FF"]}, "legend": null}}},
  {"data": {"values": [{}]}, "mark": {"type": "rect", "color": "#000000"}, "encoding": {
   "x": {"datum": -0.42, "scale": {"domain": [-0.5, 28.5], "nice": false, "zero": false}, "axis": {"title": null, "grid": false, "values": [-0.5,0.5,1.5,2.5,3.5,4.5,5.5,6.5,7.5,8.5,9.5,10.5,11.5,12.5,13.5,14.5,15.5,16.5,17.5,18.5,19.5,20.5,21.5,22.5,23.5,24.5,25.5,26.5,27.5,28.5], "labelExpr": "['Fin Avril 2011','Début Mai','Fin Mai','Début Juin','Fin Juin','Début Juillet','Fin Juillet','Début Août','Fin Août','Début Septembre','Fin Septembre','Octobre','Novembre 2011','Janvier 2012','Février 2012','Mars','Début Avril','Fin Avril','Début Mai','Fin Mai','Début Juin','Fin Juin','Début Juillet','Fin Juillet','Début Août','Fin Août','Début Septembre','Fin Septembre','Octobre 2012',''][datum.value + 0.5]", "labelAngle": 270, "labelFont": "Liberation Serif", "labelFontSize": 13.5, "labelOverlap": false, "labelFlush": false, "labelBound": false, "labelPadding": 2, "labelOffset": 8.3}},
   "x2": {"datum": 6.4},
   "y": {"datum": 2.17, "scale": {"domain": [0, 3], "nice": false}, "axis": {"title": null, "values": [0,0.5,1,1.5,2,2.5,3], "labelExpr": "replace(format(datum.value, '.2f'), '.', ',')", "labelFont": "Liberation Serif", "labelFontSize": 17, "labelPadding": 8, "labelOverlap": false}},
   "y2": {"datum": 3.03}}},
  {"data": {"values": [{}]}, "mark": {"type": "text", "color": "#ffffff", "font": "Liberation Serif", "fontWeight": "bold", "fontSize": 23}, "encoding": {
   "x": {"datum": 2.99, "scale": {"domain": [-0.5, 28.5], "nice": false, "zero": false}, "axis": {"title": null, "grid": false, "values": [-0.5,0.5,1.5,2.5,3.5,4.5,5.5,6.5,7.5,8.5,9.5,10.5,11.5,12.5,13.5,14.5,15.5,16.5,17.5,18.5,19.5,20.5,21.5,22.5,23.5,24.5,25.5,26.5,27.5,28.5], "labelExpr": "['Fin Avril 2011','Début Mai','Fin Mai','Début Juin','Fin Juin','Début Juillet','Fin Juillet','Début Août','Fin Août','Début Septembre','Fin Septembre','Octobre','Novembre 2011','Janvier 2012','Février 2012','Mars','Début Avril','Fin Avril','Début Mai','Fin Mai','Début Juin','Fin Juin','Début Juillet','Fin Juillet','Début Août','Fin Août','Début Septembre','Fin Septembre','Octobre 2012',''][datum.value + 0.5]", "labelAngle": 270, "labelFont": "Liberation Serif", "labelFontSize": 13.5, "labelOverlap": false, "labelFlush": false, "labelBound": false, "labelPadding": 2, "labelOffset": 8.3}},
   "y": {"datum": 2.6, "scale": {"domain": [0, 3], "nice": false}, "axis": {"title": null, "values": [0,0.5,1,1.5,2,2.5,3], "labelExpr": "replace(format(datum.value, '.2f'), '.', ',')", "labelFont": "Liberation Serif", "labelFontSize": 17, "labelPadding": 8, "labelOverlap": false}},
   "text": {"value": "MLO4"}}}
 ]}
], "spacing": 29, "resolve": {"scale": {"color": "independent"}}},
{"hconcat": [
 {"width": 480, "height": 192, "layer": [
  {"transform": [{"filter": "datum.p == 'ML5'"}, {"fold": ["d", "e"], "as": ["s", "v"]}], "mark": {"type": "line"}, "encoding": {
   "x": {"field": "i", "type": "quantitative", "scale": {"domain": [-0.5, 28.5], "nice": false, "zero": false}, "axis": {"title": null, "grid": false, "values": [-0.5,0.5,1.5,2.5,3.5,4.5,5.5,6.5,7.5,8.5,9.5,10.5,11.5,12.5,13.5,14.5,15.5,16.5,17.5,18.5,19.5,20.5,21.5,22.5,23.5,24.5,25.5,26.5,27.5,28.5], "labelExpr": "['Fin Avril 2011','Début Mai','Fin Mai','Début Juin','Fin Juin','Début Juillet','Fin Juillet','Début Août','Fin Août','Début Septembre','Fin Septembre','Octobre','Novembre 2011','Janvier 2012','Février 2012','Mars','Début Avril','Fin Avril','Début Mai','Fin Mai','Début Juin','Fin Juin','Début Juillet','Fin Juillet','Début Août','Fin Août','Début Septembre','Fin Septembre','Octobre 2012',''][datum.value + 0.5]", "labelAngle": 270, "labelFont": "Liberation Serif", "labelFontSize": 13.5, "labelOverlap": false, "labelFlush": false, "labelBound": false, "labelPadding": 2, "labelOffset": 8.3}},
   "y": {"field": "v", "type": "quantitative", "scale": {"domain": [0, 3], "nice": false}, "axis": {"title": null, "values": [0,0.5,1,1.5,2,2.5,3], "labelExpr": "replace(format(datum.value, '.2f'), '.', ',')", "labelFont": "Liberation Serif", "labelFontSize": 17, "labelPadding": 8, "labelOverlap": false}},
   "color": {"field": "s", "type": "nominal", "scale": {"domain": ["d", "e"], "range": ["#3333CC", "#00B0F0"]}, "legend": null}}},
  {"data": {"values": [{}]}, "mark": {"type": "rect", "color": "#000000"}, "encoding": {
   "x": {"datum": 22.46, "scale": {"domain": [-0.5, 28.5], "nice": false, "zero": false}, "axis": {"title": null, "grid": false, "values": [-0.5,0.5,1.5,2.5,3.5,4.5,5.5,6.5,7.5,8.5,9.5,10.5,11.5,12.5,13.5,14.5,15.5,16.5,17.5,18.5,19.5,20.5,21.5,22.5,23.5,24.5,25.5,26.5,27.5,28.5], "labelExpr": "['Fin Avril 2011','Début Mai','Fin Mai','Début Juin','Fin Juin','Début Juillet','Fin Juillet','Début Août','Fin Août','Début Septembre','Fin Septembre','Octobre','Novembre 2011','Janvier 2012','Février 2012','Mars','Début Avril','Fin Avril','Début Mai','Fin Mai','Début Juin','Fin Juin','Début Juillet','Fin Juillet','Début Août','Fin Août','Début Septembre','Fin Septembre','Octobre 2012',''][datum.value + 0.5]", "labelAngle": 270, "labelFont": "Liberation Serif", "labelFontSize": 13.5, "labelOverlap": false, "labelFlush": false, "labelBound": false, "labelPadding": 2, "labelOffset": 8.3}},
   "x2": {"datum": 28.5},
   "y": {"datum": 2.17, "scale": {"domain": [0, 3], "nice": false}, "axis": {"title": null, "values": [0,0.5,1,1.5,2,2.5,3], "labelExpr": "replace(format(datum.value, '.2f'), '.', ',')", "labelFont": "Liberation Serif", "labelFontSize": 17, "labelPadding": 8, "labelOverlap": false}},
   "y2": {"datum": 3.03}}},
  {"data": {"values": [{}]}, "mark": {"type": "text", "color": "#ffffff", "font": "Liberation Serif", "fontWeight": "bold", "fontSize": 23}, "encoding": {
   "x": {"datum": 25.48, "scale": {"domain": [-0.5, 28.5], "nice": false, "zero": false}, "axis": {"title": null, "grid": false, "values": [-0.5,0.5,1.5,2.5,3.5,4.5,5.5,6.5,7.5,8.5,9.5,10.5,11.5,12.5,13.5,14.5,15.5,16.5,17.5,18.5,19.5,20.5,21.5,22.5,23.5,24.5,25.5,26.5,27.5,28.5], "labelExpr": "['Fin Avril 2011','Début Mai','Fin Mai','Début Juin','Fin Juin','Début Juillet','Fin Juillet','Début Août','Fin Août','Début Septembre','Fin Septembre','Octobre','Novembre 2011','Janvier 2012','Février 2012','Mars','Début Avril','Fin Avril','Début Mai','Fin Mai','Début Juin','Fin Juin','Début Juillet','Fin Juillet','Début Août','Fin Août','Début Septembre','Fin Septembre','Octobre 2012',''][datum.value + 0.5]", "labelAngle": 270, "labelFont": "Liberation Serif", "labelFontSize": 13.5, "labelOverlap": false, "labelFlush": false, "labelBound": false, "labelPadding": 2, "labelOffset": 8.3}},
   "y": {"datum": 2.6, "scale": {"domain": [0, 3], "nice": false}, "axis": {"title": null, "values": [0,0.5,1,1.5,2,2.5,3], "labelExpr": "replace(format(datum.value, '.2f'), '.', ',')", "labelFont": "Liberation Serif", "labelFontSize": 17, "labelPadding": 8, "labelOverlap": false}},
   "text": {"value": "ML5"}}}
 ]},
 {"width": 480, "height": 192, "layer": [
  {"transform": [{"filter": "datum.p == 'MLO5'"}, {"fold": ["d", "e"], "as": ["s", "v"]}], "mark": {"type": "line"}, "encoding": {
   "x": {"field": "i", "type": "quantitative", "scale": {"domain": [-0.5, 28.5], "nice": false, "zero": false}, "axis": {"title": null, "grid": false, "values": [-0.5,0.5,1.5,2.5,3.5,4.5,5.5,6.5,7.5,8.5,9.5,10.5,11.5,12.5,13.5,14.5,15.5,16.5,17.5,18.5,19.5,20.5,21.5,22.5,23.5,24.5,25.5,26.5,27.5,28.5], "labelExpr": "['Fin Avril 2011','Début Mai','Fin Mai','Début Juin','Fin Juin','Début Juillet','Fin Juillet','Début Août','Fin Août','Début Septembre','Fin Septembre','Octobre','Novembre 2011','Janvier 2012','Février 2012','Mars','Début Avril','Fin Avril','Début Mai','Fin Mai','Début Juin','Fin Juin','Début Juillet','Fin Juillet','Début Août','Fin Août','Début Septembre','Fin Septembre','Octobre 2012',''][datum.value + 0.5]", "labelAngle": 270, "labelFont": "Liberation Serif", "labelFontSize": 13.5, "labelOverlap": false, "labelFlush": false, "labelBound": false, "labelPadding": 2, "labelOffset": 8.3}},
   "y": {"field": "v", "type": "quantitative", "scale": {"domain": [0, 3], "nice": false}, "axis": {"title": null, "values": [0,0.5,1,1.5,2,2.5,3], "labelExpr": "replace(format(datum.value, '.2f'), '.', ',')", "labelFont": "Liberation Serif", "labelFontSize": 17, "labelPadding": 8, "labelOverlap": false}},
   "color": {"field": "s", "type": "nominal", "scale": {"domain": ["d", "e"], "range": ["#990099", "#9933FF"]}, "legend": null}}},
  {"data": {"values": [{}]}, "mark": {"type": "rect", "color": "#000000"}, "encoding": {
   "x": {"datum": -0.42, "scale": {"domain": [-0.5, 28.5], "nice": false, "zero": false}, "axis": {"title": null, "grid": false, "values": [-0.5,0.5,1.5,2.5,3.5,4.5,5.5,6.5,7.5,8.5,9.5,10.5,11.5,12.5,13.5,14.5,15.5,16.5,17.5,18.5,19.5,20.5,21.5,22.5,23.5,24.5,25.5,26.5,27.5,28.5], "labelExpr": "['Fin Avril 2011','Début Mai','Fin Mai','Début Juin','Fin Juin','Début Juillet','Fin Juillet','Début Août','Fin Août','Début Septembre','Fin Septembre','Octobre','Novembre 2011','Janvier 2012','Février 2012','Mars','Début Avril','Fin Avril','Début Mai','Fin Mai','Début Juin','Fin Juin','Début Juillet','Fin Juillet','Début Août','Fin Août','Début Septembre','Fin Septembre','Octobre 2012',''][datum.value + 0.5]", "labelAngle": 270, "labelFont": "Liberation Serif", "labelFontSize": 13.5, "labelOverlap": false, "labelFlush": false, "labelBound": false, "labelPadding": 2, "labelOffset": 8.3}},
   "x2": {"datum": 6.4},
   "y": {"datum": 2.17, "scale": {"domain": [0, 3], "nice": false}, "axis": {"title": null, "values": [0,0.5,1,1.5,2,2.5,3], "labelExpr": "replace(format(datum.value, '.2f'), '.', ',')", "labelFont": "Liberation Serif", "labelFontSize": 17, "labelPadding": 8, "labelOverlap": false}},
   "y2": {"datum": 3.03}}},
  {"data": {"values": [{}]}, "mark": {"type": "text", "color": "#ffffff", "font": "Liberation Serif", "fontWeight": "bold", "fontSize": 23}, "encoding": {
   "x": {"datum": 2.99, "scale": {"domain": [-0.5, 28.5], "nice": false, "zero": false}, "axis": {"title": null, "grid": false, "values": [-0.5,0.5,1.5,2.5,3.5,4.5,5.5,6.5,7.5,8.5,9.5,10.5,11.5,12.5,13.5,14.5,15.5,16.5,17.5,18.5,19.5,20.5,21.5,22.5,23.5,24.5,25.5,26.5,27.5,28.5], "labelExpr": "['Fin Avril 2011','Début Mai','Fin Mai','Début Juin','Fin Juin','Début Juillet','Fin Juillet','Début Août','Fin Août','Début Septembre','Fin Septembre','Octobre','Novembre 2011','Janvier 2012','Février 2012','Mars','Début Avril','Fin Avril','Début Mai','Fin Mai','Début Juin','Fin Juin','Début Juillet','Fin Juillet','Début Août','Fin Août','Début Septembre','Fin Septembre','Octobre 2012',''][datum.value + 0.5]", "labelAngle": 270, "labelFont": "Liberation Serif", "labelFontSize": 13.5, "labelOverlap": false, "labelFlush": false, "labelBound": false, "labelPadding": 2, "labelOffset": 8.3}},
   "y": {"datum": 2.6, "scale": {"domain": [0, 3], "nice": false}, "axis": {"title": null, "values": [0,0.5,1,1.5,2,2.5,3], "labelExpr": "replace(format(datum.value, '.2f'), '.', ',')", "labelFont": "Liberation Serif", "labelFontSize": 17, "labelPadding": 8, "labelOverlap": false}},
   "text": {"value": "MLO5"}}}
 ]}
], "spacing": 29, "resolve": {"scale": {"color": "independent"}}},
{"hconcat": [
 {"width": 480, "height": 165, "layer": [
  {"transform": [{"filter": "datum.p == 'ML6'"}, {"fold": ["d", "e"], "as": ["s", "v"]}], "mark": {"type": "line"}, "encoding": {
   "x": {"field": "i", "type": "quantitative", "scale": {"domain": [-0.5, 28.5], "nice": false, "zero": false}, "axis": {"title": null, "grid": false, "values": [-0.5,0.5,1.5,2.5,3.5,4.5,5.5,6.5,7.5,8.5,9.5,10.5,11.5,12.5,13.5,14.5,15.5,16.5,17.5,18.5,19.5,20.5,21.5,22.5,23.5,24.5,25.5,26.5,27.5,28.5], "labelExpr": "['Fin Avril 2011','Début Mai','Fin Mai','Début Juin','Fin Juin','Début Juillet','Fin Juillet','Début Août','Fin Août','Début Septembre','Fin Septembre','Octobre','Novembre 2011','Janvier 2012','Février 2012','Mars','Début Avril','Fin Avril','Début Mai','Fin Mai','Début Juin','Fin Juin','Début Juillet','Fin Juillet','Début Août','Fin Août','Début Septembre','Fin Septembre','Octobre 2012',''][datum.value + 0.5]", "labelAngle": 270, "labelFont": "Liberation Serif", "labelFontSize": 13.5, "labelOverlap": false, "labelFlush": false, "labelBound": false, "labelPadding": 2, "labelOffset": 8.3}},
   "y": {"field": "v", "type": "quantitative", "scale": {"domain": [0, 3], "nice": false}, "axis": {"title": null, "values": [0,0.5,1,1.5,2,2.5,3], "labelExpr": "replace(format(datum.value, '.2f'), '.', ',')", "labelFont": "Liberation Serif", "labelFontSize": 17, "labelPadding": 8, "labelOverlap": false}},
   "color": {"field": "s", "type": "nominal", "scale": {"domain": ["d", "e"], "range": ["#3333CC", "#00B0F0"]}, "legend": {"orient": "none", "legendX": 57, "legendY": 258, "direction": "horizontal", "title": null, "labelExpr": "datum.value == 'd' ? 'Diversité pollinique' : 'Equitabilité'", "labelFont": "Liberation Serif", "labelFontSize": 16, "labelColor": "#000000", "symbolType": "stroke", "symbolStrokeWidth": 4, "symbolSize": 2600, "labelOffset": 6, "columnPadding": 30}}}},
  {"data": {"values": [{}]}, "mark": {"type": "rect", "color": "#000000"}, "encoding": {
   "x": {"datum": 22.46, "scale": {"domain": [-0.5, 28.5], "nice": false, "zero": false}, "axis": {"title": null, "grid": false, "values": [-0.5,0.5,1.5,2.5,3.5,4.5,5.5,6.5,7.5,8.5,9.5,10.5,11.5,12.5,13.5,14.5,15.5,16.5,17.5,18.5,19.5,20.5,21.5,22.5,23.5,24.5,25.5,26.5,27.5,28.5], "labelExpr": "['Fin Avril 2011','Début Mai','Fin Mai','Début Juin','Fin Juin','Début Juillet','Fin Juillet','Début Août','Fin Août','Début Septembre','Fin Septembre','Octobre','Novembre 2011','Janvier 2012','Février 2012','Mars','Début Avril','Fin Avril','Début Mai','Fin Mai','Début Juin','Fin Juin','Début Juillet','Fin Juillet','Début Août','Fin Août','Début Septembre','Fin Septembre','Octobre 2012',''][datum.value + 0.5]", "labelAngle": 270, "labelFont": "Liberation Serif", "labelFontSize": 13.5, "labelOverlap": false, "labelFlush": false, "labelBound": false, "labelPadding": 2, "labelOffset": 8.3}},
   "x2": {"datum": 28.5},
   "y": {"datum": 2.04, "scale": {"domain": [0, 3], "nice": false}, "axis": {"title": null, "values": [0,0.5,1,1.5,2,2.5,3], "labelExpr": "replace(format(datum.value, '.2f'), '.', ',')", "labelFont": "Liberation Serif", "labelFontSize": 17, "labelPadding": 8, "labelOverlap": false}},
   "y2": {"datum": 3.03}}},
  {"data": {"values": [{}]}, "mark": {"type": "text", "color": "#ffffff", "font": "Liberation Serif", "fontWeight": "bold", "fontSize": 23}, "encoding": {
   "x": {"datum": 25.48, "scale": {"domain": [-0.5, 28.5], "nice": false, "zero": false}, "axis": {"title": null, "grid": false, "values": [-0.5,0.5,1.5,2.5,3.5,4.5,5.5,6.5,7.5,8.5,9.5,10.5,11.5,12.5,13.5,14.5,15.5,16.5,17.5,18.5,19.5,20.5,21.5,22.5,23.5,24.5,25.5,26.5,27.5,28.5], "labelExpr": "['Fin Avril 2011','Début Mai','Fin Mai','Début Juin','Fin Juin','Début Juillet','Fin Juillet','Début Août','Fin Août','Début Septembre','Fin Septembre','Octobre','Novembre 2011','Janvier 2012','Février 2012','Mars','Début Avril','Fin Avril','Début Mai','Fin Mai','Début Juin','Fin Juin','Début Juillet','Fin Juillet','Début Août','Fin Août','Début Septembre','Fin Septembre','Octobre 2012',''][datum.value + 0.5]", "labelAngle": 270, "labelFont": "Liberation Serif", "labelFontSize": 13.5, "labelOverlap": false, "labelFlush": false, "labelBound": false, "labelPadding": 2, "labelOffset": 8.3}},
   "y": {"datum": 2.53, "scale": {"domain": [0, 3], "nice": false}, "axis": {"title": null, "values": [0,0.5,1,1.5,2,2.5,3], "labelExpr": "replace(format(datum.value, '.2f'), '.', ',')", "labelFont": "Liberation Serif", "labelFontSize": 17, "labelPadding": 8, "labelOverlap": false}},
   "text": {"value": "ML6"}}}
 ]},
 {"width": 480, "height": 165, "layer": [
  {"transform": [{"filter": "datum.p == 'MLO6'"}, {"fold": ["d", "e"], "as": ["s", "v"]}], "mark": {"type": "line"}, "encoding": {
   "x": {"field": "i", "type": "quantitative", "scale": {"domain": [-0.5, 28.5], "nice": false, "zero": false}, "axis": {"title": null, "grid": false, "values": [-0.5,0.5,1.5,2.5,3.5,4.5,5.5,6.5,7.5,8.5,9.5,10.5,11.5,12.5,13.5,14.5,15.5,16.5,17.5,18.5,19.5,20.5,21.5,22.5,23.5,24.5,25.5,26.5,27.5,28.5], "labelExpr": "['Fin Avril 2011','Début Mai','Fin Mai','Début Juin','Fin Juin','Début Juillet','Fin Juillet','Début Août','Fin Août','Début Septembre','Fin Septembre','Octobre','Novembre 2011','Janvier 2012','Février 2012','Mars','Début Avril','Fin Avril','Début Mai','Fin Mai','Début Juin','Fin Juin','Début Juillet','Fin Juillet','Début Août','Fin Août','Début Septembre','Fin Septembre','Octobre 2012',''][datum.value + 0.5]", "labelAngle": 270, "labelFont": "Liberation Serif", "labelFontSize": 13.5, "labelOverlap": false, "labelFlush": false, "labelBound": false, "labelPadding": 2, "labelOffset": 8.3}},
   "y": {"field": "v", "type": "quantitative", "scale": {"domain": [0, 3], "nice": false}, "axis": {"title": null, "values": [0,0.5,1,1.5,2,2.5,3], "labelExpr": "replace(format(datum.value, '.2f'), '.', ',')", "labelFont": "Liberation Serif", "labelFontSize": 17, "labelPadding": 8, "labelOverlap": false}},
   "color": {"field": "s", "type": "nominal", "scale": {"domain": ["d", "e"], "range": ["#990099", "#9933FF"]}, "legend": {"orient": "none", "legendX": 58, "legendY": 258, "direction": "horizontal", "title": null, "labelExpr": "datum.value == 'd' ? 'Diversité pollinique' : 'Equitabilité'", "labelFont": "Liberation Serif", "labelFontSize": 16, "labelColor": "#000000", "symbolType": "stroke", "symbolStrokeWidth": 4, "symbolSize": 2600, "labelOffset": 6, "columnPadding": 30}}}},
  {"data": {"values": [{}]}, "mark": {"type": "rect", "color": "#000000"}, "encoding": {
   "x": {"datum": -0.42, "scale": {"domain": [-0.5, 28.5], "nice": false, "zero": false}, "axis": {"title": null, "grid": false, "values": [-0.5,0.5,1.5,2.5,3.5,4.5,5.5,6.5,7.5,8.5,9.5,10.5,11.5,12.5,13.5,14.5,15.5,16.5,17.5,18.5,19.5,20.5,21.5,22.5,23.5,24.5,25.5,26.5,27.5,28.5], "labelExpr": "['Fin Avril 2011','Début Mai','Fin Mai','Début Juin','Fin Juin','Début Juillet','Fin Juillet','Début Août','Fin Août','Début Septembre','Fin Septembre','Octobre','Novembre 2011','Janvier 2012','Février 2012','Mars','Début Avril','Fin Avril','Début Mai','Fin Mai','Début Juin','Fin Juin','Début Juillet','Fin Juillet','Début Août','Fin Août','Début Septembre','Fin Septembre','Octobre 2012',''][datum.value + 0.5]", "labelAngle": 270, "labelFont": "Liberation Serif", "labelFontSize": 13.5, "labelOverlap": false, "labelFlush": false, "labelBound": false, "labelPadding": 2, "labelOffset": 8.3}},
   "x2": {"datum": 6.4},
   "y": {"datum": 2.04, "scale": {"domain": [0, 3], "nice": false}, "axis": {"title": null, "values": [0,0.5,1,1.5,2,2.5,3], "labelExpr": "replace(format(datum.value, '.2f'), '.', ',')", "labelFont": "Liberation Serif", "labelFontSize": 17, "labelPadding": 8, "labelOverlap": false}},
   "y2": {"datum": 3.03}}},
  {"data": {"values": [{}]}, "mark": {"type": "text", "color": "#ffffff", "font": "Liberation Serif", "fontWeight": "bold", "fontSize": 23}, "encoding": {
   "x": {"datum": 2.99, "scale": {"domain": [-0.5, 28.5], "nice": false, "zero": false}, "axis": {"title": null, "grid": false, "values": [-0.5,0.5,1.5,2.5,3.5,4.5,5.5,6.5,7.5,8.5,9.5,10.5,11.5,12.5,13.5,14.5,15.5,16.5,17.5,18.5,19.5,20.5,21.5,22.5,23.5,24.5,25.5,26.5,27.5,28.5], "labelExpr": "['Fin Avril 2011','Début Mai','Fin Mai','Début Juin','Fin Juin','Début Juillet','Fin Juillet','Début Août','Fin Août','Début Septembre','Fin Septembre','Octobre','Novembre 2011','Janvier 2012','Février 2012','Mars','Début Avril','Fin Avril','Début Mai','Fin Mai','Début Juin','Fin Juin','Début Juillet','Fin Juillet','Début Août','Fin Août','Début Septembre','Fin Septembre','Octobre 2012',''][datum.value + 0.5]", "labelAngle": 270, "labelFont": "Liberation Serif", "labelFontSize": 13.5, "labelOverlap": false, "labelFlush": false, "labelBound": false, "labelPadding": 2, "labelOffset": 8.3}},
   "y": {"datum": 2.53, "scale": {"domain": [0, 3], "nice": false}, "axis": {"title": null, "values": [0,0.5,1,1.5,2,2.5,3], "labelExpr": "replace(format(datum.value, '.2f'), '.', ',')", "labelFont": "Liberation Serif", "labelFontSize": 17, "labelPadding": 8, "labelOverlap": false}},
   "text": {"value": "MLO6"}}}
 ]}
], "spacing": 29, "resolve": {"scale": {"color": "independent"}}}
]
}
